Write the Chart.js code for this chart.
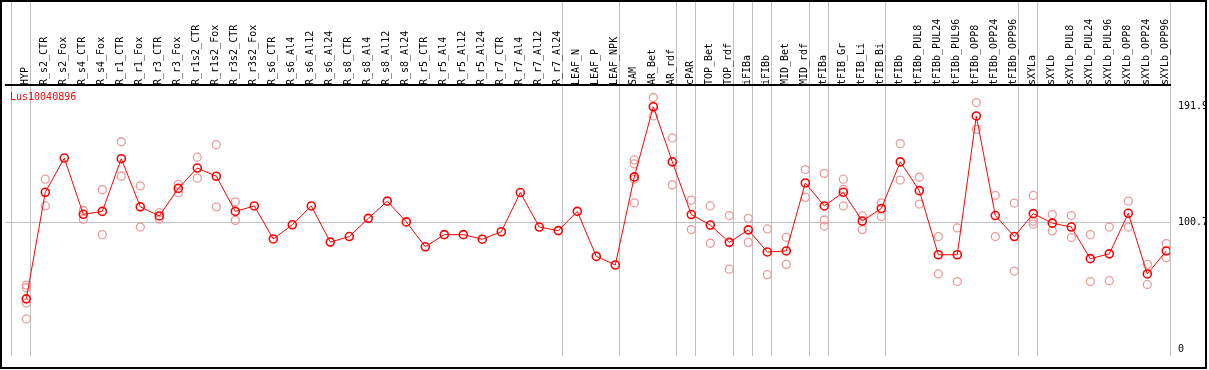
<!DOCTYPE html>
<html>
<head>
<meta charset="utf-8">
<script src="https://cdn.jsdelivr.net/npm/chart.js@4.4.1/dist/chart.umd.min.js"></script>
<style>
  html, body { margin: 0; padding: 0; background: #fff; }
  #wrap { width: 1209px; height: 370px; }
</style>
</head>
<body>
<div id="wrap"><canvas id="chart" width="1209" height="370"></canvas></div>
<script>
const geneName = 'Lus10040896';

const samples = [
  'HYP', 'R_s2_CTR', 'R_s2_Fox', 'R_s4_CTR', 'R_s4_Fox', 'R_r1_CTR', 'R_r1_Fox', 'R_r3_CTR', 'R_r3_Fox', 'R_r1s2_CTR',
  'R_r1s2_Fox', 'R_r3s2_CTR', 'R_r3s2_Fox', 'R_s6_CTR', 'R_s6_Al4', 'R_s6_Al12', 'R_s6_Al24', 'R_s8_CTR', 'R_s8_Al4', 'R_s8_Al12',
  'R_s8_Al24', 'R_r5_CTR', 'R_r5_Al4', 'R_r5_Al12', 'R_r5_Al24', 'R_r7_CTR', 'R_r7_Al4', 'R_r7_Al12', 'R_r7_Al24', 'LEAF_N',
  'LEAF_P', 'LEAF_NPK', 'SAM', 'AR_Bet', 'AR_rdf', 'cPAR', 'TOP_Bet', 'TOP_rdf', 'iFIBa', 'iFIBb',
  'MID_Bet', 'MID_rdf', 'tFIBa', 'tFIB_Gr', 'tFIB_Li', 'tFIB_Bi', 'tFIBb', 'tFIBb_PUL8', 'tFIBb_PUL24', 'tFIBb_PUL96',
  'tFIBb_OPP8', 'tFIBb_OPP24', 'tFIBb_OPP96', 'sXYLa', 'sXYLb', 'sXYLb_PUL8', 'sXYLb_PUL24', 'sXYLb_PUL96', 'sXYLb_OPP8', 'sXYLb_OPP24',
  'sXYLb_OPP96'
];

// mean expression per sample (red line)
const means = [
  39.9, 124.2, 151.3, 106.8, 109.1, 150.8, 112.7, 105.5, 127.3, 143.4,
  136.9, 109.1, 113.4, 87.3, 98.5, 113.4, 84.8, 89.2, 103.6, 117.2,
  100.8, 81.1, 90.7, 90.7, 87.1, 93.0, 124.0, 96.7, 93.9, 109.1,
  73.5, 66.7, 136.4, 191.9, 148.3, 106.6, 98.3, 84.6, 94.5, 77.0,
  77.8, 131.6, 113.4, 124.2, 101.5, 111.4, 148.3, 125.5, 74.8, 74.8,
  184.6, 105.8, 89.2, 107.3, 99.8, 96.7, 71.7, 75.5, 107.6, 59.6,
  77.8
];

// biological replicates (pink circles)
const rep1 = [
  50.8, 134.6, null, 109.8, 126.3, 164.2, 129.3, 108.1, 130.5, 152.0,
  161.9, 116.7, null, null, null, null, null, null, null, null,
  null, null, null, null, null, null, null, null, null, null,
  null, null, 149.8, 199.2, 167.2, 118.0, 113.4, 105.8, 103.6, 95.2,
  88.6, 142.2, 139.2, 134.6, 105.5, 115.9, 162.7, 136.1, 89.2, 96.0,
  195.2, 121.7, 115.7, 121.7, 106.6, 105.8, 90.7, 96.7, 117.2, 67.2,
  83.6
];
const rep2 = [
  48.7, 113.4, null, 103.0, 90.7, 136.9, 96.7, 103.0, 123.7, 135.4,
  112.7, 102.0, null, null, null, null, null, null, null, null,
  null, null, null, null, null, null, null, null, null, null,
  null, null, 146.7, 184.6, 130.1, 94.7, 83.9, 63.4, 84.6, 59.1,
  67.2, 120.2, 102.3, 126.5, 94.7, 105.1, 133.9, 114.9, 59.6, 53.6,
  174.0, 89.2, 61.9, 101.3, 93.7, 88.4, 53.6, 54.3, 96.7, 51.3,
  72.5
];
const rep3 = [
  36.6, null, null, null, null, null, null, null, null, null,
  null, null, null, null, null, null, null, null, null, null,
  null, null, null, null, null, null, null, null, null, null,
  null, null, 134.6, null, null, null, null, null, null, null,
  null, null, 97.5, 113.4, null, null, null, null, null, null,
  null, null, null, 99.0, null, null, null, null, null, null,
  null
];
const rep4 = [
  24.0, null, null, null, null, null, null, null, null, null,
  null, null, null, null, null, null, null, null, null, null,
  null, null, null, null, null, null, null, null, null, null,
  null, null, 115.9, null, null, null, null, null, null, null,
  null, null, null, null, null, null, null, null, null, null,
  null, null, null, null, null, null, null, null, null, null,
  null
];

const yTicks = [0, 100.7, 191.9];
// last sample index of each tissue group (gray separators)
const groupEnds = [-1, 0, 28, 31, 34, 35, 37, 38, 39, 41, 42, 45, 52, 53, 60];

const meanPoints = means.map((v, i) => ({ x: i, y: v }));
const repPoints = [];
[rep1, rep2, rep3, rep4].forEach(r => {
  r.forEach((v, i) => { if (v !== null) repPoints.push({ x: i, y: v }); });
});

const monoFont = { family: 'DejaVu Sans Mono', size: 10 };
const firstX = 26.3;   // pixel of first sample
const step = 19;       // pixels between samples
const labelShift = 11 / 19;   // rotated labels sit left of the tick, nudge them back

const noPad = s => { s.paddingLeft = 0; s.paddingRight = 0; };

const separators = {
  id: 'separators',
  beforeDraw(chart) {
    const ctx = chart.ctx;
    const xs = chart.scales.x;
    ctx.save();
    ctx.strokeStyle = '#c0c0c0';
    ctx.lineWidth = 1;
    groupEnds.forEach(g => {
      const px = Math.round(xs.getPixelForValue(g + 0.21)) + 0.5;
      ctx.beginPath();
      ctx.moveTo(px, 0);
      ctx.lineTo(px, chart.chartArea.bottom);
      ctx.stroke();
    });
    ctx.restore();
  },
  afterDraw(chart) {
    const ctx = chart.ctx;
    ctx.save();
    ctx.fillStyle = '#ff0000';
    ctx.font = '10px "DejaVu Sans Mono"';
    ctx.textBaseline = 'middle';
    ctx.fillText(geneName, 10, 97);
    ctx.strokeStyle = '#000';
    ctx.lineWidth = 2;
    ctx.strokeRect(1, 1, 1205, 367);
    ctx.restore();
  }
};

const chart = new Chart(document.getElementById('chart'), {
  type: 'line',
  data: {
    datasets: [
      {
        label: 'mean',
        data: meanPoints,
        borderColor: '#ff0000',
        borderWidth: 1,
        pointRadius: 4,
        pointBorderWidth: 1.6,
        pointBorderColor: '#ff0000',
        pointBackgroundColor: 'rgba(0,0,0,0)',
        order: 0
      },
      {
        label: 'replicates',
        data: repPoints,
        showLine: false,
        pointRadius: 4,
        pointBorderWidth: 1.3,
        pointBorderColor: '#eb9a9a',
        pointBackgroundColor: 'rgba(0,0,0,0)',
        order: 1
      }
    ]
  },
  options: {
    responsive: false,
    animation: false,
    devicePixelRatio: 1,
    layout: { padding: { left: 1, right: 3, top: 0, bottom: 2 } },
    plugins: { legend: { display: false }, tooltip: { enabled: false } },
    scales: {
      x: {
        type: 'linear',
        display: false,
        min: -1.33,
        max: 60.2
      },
      xl: {
        type: 'linear',
        position: 'top',
        min: -1.33 - labelShift,
        max: 60.2 - labelShift,
        afterBuildTicks: s => { s.ticks = samples.map((_, i) => ({ value: i })); },
        afterFit: s => { s.height = 85; noPad(s); },
        grid: { display: false, drawTicks: false },
        border: { display: true, color: '#000', width: 2 },
        ticks: {
          autoSkip: false,
          minRotation: 90,
          maxRotation: 90,
          padding: 0,
          color: '#000',
          font: monoFont,
          callback: v => samples[v]
        }
      },
      y: {
        type: 'linear',
        position: 'right',
        min: -5.3,
        max: 209.1,
        afterBuildTicks: s => { s.ticks = yTicks.map(v => ({ value: v })); },
        afterFit: s => { s.width = 36; },
        grid: {
          drawTicks: false,
          color: c => (c.tick && c.tick.value === 100.7 ? '#c0c0c0' : 'rgba(0,0,0,0)')
        },
        border: { display: false },
        ticks: { color: '#000', font: monoFont, padding: 8, callback: v => String(v) }
      }
    }
  },
  plugins: [separators]
});

// pin the sample spacing to the real plot area
const area = chart.chartArea;
const xMin = (area.left - firstX) / step;
const xMax = (area.right - firstX) / step;
chart.options.scales.x.min = xMin;
chart.options.scales.x.max = xMax;
chart.options.scales.xl.min = xMin - labelShift;
chart.options.scales.xl.max = xMax - labelShift;
chart.update();
</script>
</body>
</html>
